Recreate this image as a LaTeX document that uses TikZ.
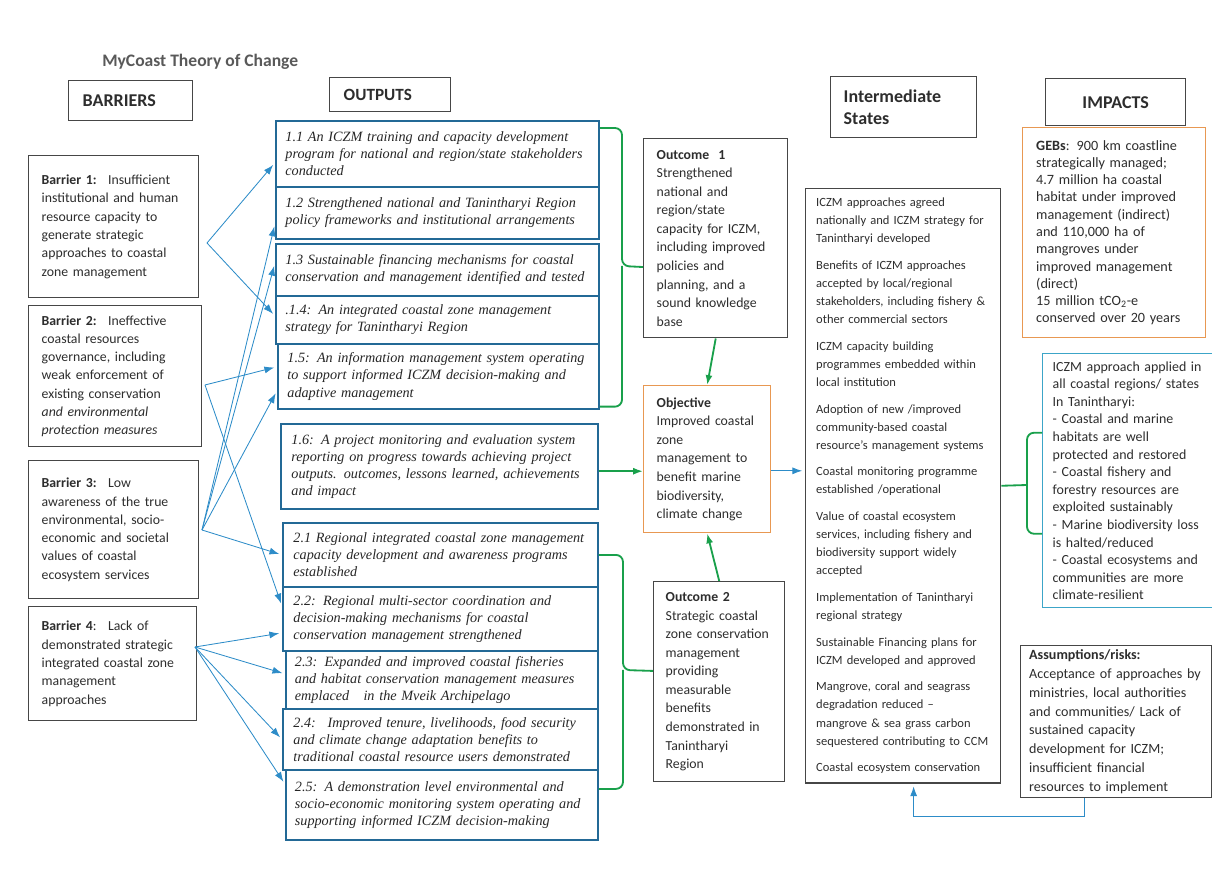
\documentclass[tikz,border=0pt]{standalone}
\usepackage{fontspec}
\setmainfont{Carlito}
\newfontfamily\timesfont{Liberation Serif}
\usepackage{tikz}
\usetikzlibrary{arrows.meta}
\definecolor{boxgray}{RGB}{70,70,70}
\definecolor{txtgray}{RGB}{45,45,45}
\definecolor{outblue}{RGB}{35,105,150}
\definecolor{arrblue}{RGB}{45,140,200}
\definecolor{bracegreen}{RGB}{25,160,75}
\definecolor{objorange}{RGB}{232,152,82}
\definecolor{impteal}{RGB}{60,165,200}
\tikzstyle{box}=[draw=boxgray, line width=1pt, inner sep=0pt, anchor=north west, text=txtgray, align=left]
\tikzstyle{hbox}=[box, font=\fontsize{12.8}{15}\selectfont\bfseries]
\tikzstyle{bbox}=[box, font=\fontsize{9.8}{13}\selectfont]
\tikzstyle{obox}=[box, draw=outblue, line width=1.3pt, text=black!85, font=\timesfont\itshape\fontsize{10.1}{12.2}\selectfont]
\tikzstyle{cbox}=[box, font=\fontsize{9.8}{13.2}\selectfont]
\tikzstyle{sbox}=[box, font=\fontsize{8.9}{12.9}\selectfont]
\tikzstyle{barr}=[draw=arrblue, line width=0.6pt, shorten >=2pt, -{Latex[length=7pt,width=5pt]}]
\tikzstyle{brace}=[draw=bracegreen, line width=1.3pt, rounded corners=5pt]
\tikzstyle{garr}=[brace, -{Latex[length=7pt,width=5pt]}]

\begin{document}
\begin{tikzpicture}[x=0.025cm, y=-0.025cm]
    \useasboundingbox (0,0) rectangle (1212,878);
    \node[font=\fontsize{12.5}{15}\selectfont\bfseries, text=black!65, anchor=west, inner sep=0pt] (title) at (102,62) {MyCoast Theory of Change};

    % column headers
    \node[hbox, minimum width=3.1cm, minimum height=1cm, text width=2.4cm] (hbar) at (68,80) {BARRIERS};
    \node[hbox, font=\fontsize{12.2}{15}\selectfont\bfseries, minimum width=3.025cm, minimum height=0.85cm, text width=2.325cm] (hout) at (329,77) {OUTPUTS};
    \node[hbox, minimum width=3.65cm, minimum height=1.525cm, text width=3cm] (hint) at (830,76) {Intermediate\\States};
    \node[hbox, minimum width=3.5cm, minimum height=1.175cm, align=center] (himp) at (1045,78) {IMPACTS};

    % barriers
    \node[bbox, minimum width=4.25cm, minimum height=3.55cm, text width=3.6cm] (b1) at (28,155)
        {\textbf{Barrier 1:} \ Insufficient\\institutional and human\\resource capacity to\\generate strategic\\approaches to coastal\\zone management};
    \node[bbox, minimum width=4.325cm, minimum height=3.525cm, text width=3.675cm] (b2) at (28,305)
        {\textbf{Barrier 2:} \ Ineffective\\coastal resources\\governance, including\\weak enforcement of\\existing conservation\\\textit{and environmental}\\\textit{protection measures}};
    \node[bbox, minimum width=4.25cm, minimum height=3.45cm, text width=3.6cm] (b3) at (28,460)
        {\textbf{Barrier 3:} \ Low\\awareness of the true\\environmental, socio-\\economic and societal\\values of coastal\\ecosystem services\\[0.15cm]};
    \node[bbox, minimum width=4.2cm, minimum height=2.85cm, text width=3.55cm] (b4) at (28,606)
        {\textbf{Barrier 4}: \ Lack of\\demonstrated strategic\\integrated coastal zone\\management\\approaches};

    % outputs
    \node[obox, minimum width=8.075cm, minimum height=1.65cm, text width=7.6cm] (o11) at (275,120)
        {1.1 An ICZM training and capacity development\\program for national and region/state stakeholders\\conducted};
    \node[obox, minimum width=8.075cm, minimum height=1.3cm, text width=7.6cm] (o12) at (275,186)
        {1.2 Strengthened national and Tanintharyi Region\\policy frameworks and institutional arrangements};
    \node[obox, minimum width=8.075cm, minimum height=1.3cm, text width=7.6cm] (o13) at (275,243)
        {1.3 Sustainable financing mechanisms for coastal\\conservation and management identified and tested};
    \node[obox, minimum width=8.075cm, minimum height=1.2cm, text width=7.6cm] (o14) at (275,295)
        {.1.4: An integrated coastal zone management\\strategy for Tanintharyi Region};
    \node[obox, minimum width=8.025cm, minimum height=1.625cm, text width=7.55cm] (o15) at (277,343)
        {1.5: An information management system operating\\to support informed ICZM decision-making and\\adaptive management};
    \node[obox, minimum width=7.925cm, minimum height=2.125cm, text width=7.4cm] (o16) at (280,423)
        {1.6: A project monitoring and evaluation system\\reporting on progress towards achieving project\\outputs. outcomes, lessons learned, achievements\\and impact};
    \node[obox, minimum width=7.875cm, minimum height=1.6cm, text width=7.35cm] (o21) at (282,522)
        {2.1 Regional integrated coastal zone management\\capacity development and awareness programs\\established};
    \node[obox, minimum width=7.875cm, minimum height=1.6cm, text width=7.35cm] (o22) at (282,586)
        {2.2: Regional multi-sector coordination and\\decision-making mechanisms for coastal\\conservation management strengthened};
    \node[obox, minimum width=7.8cm, minimum height=1.45cm, text width=7.35cm] (o23) at (285,650)
        {2.3: Expanded and improved coastal fisheries\\and habitat conservation management measures\\emplaced \ \ in the Mveik Archipelago};
    \node[obox, minimum width=7.875cm, minimum height=1.525cm, text width=7.35cm] (o24) at (282,708)
        {2.4: \ Improved tenure, livelihoods, food security\\and climate change adaptation benefits to\\traditional coastal resource users demonstrated};
    \node[obox, minimum width=7.8cm, minimum height=1.75cm, text width=7.35cm] (o25) at (285,769)
        {2.5: A demonstration level environmental and\\socio-economic monitoring system operating and\\supporting informed ICZM decision-making};

    % outcomes and objective
    \node[cbox, minimum width=3.6cm, minimum height=4.975cm, text width=2.95cm] (oc1) at (643,138)
        {\textbf{Outcome \ 1}\\Strengthened\\national and\\region/state\\capacity for ICZM,\\including improved\\policies and\\planning, and a\\sound knowledge\\base};
    \node[cbox, draw=objorange, minimum width=3.175cm, minimum height=3.675cm, text width=2.525cm] (obj) at (643,385)
        {\textbf{Objective}\\Improved coastal\\zone\\management to\\benefit marine\\biodiversity,\\climate change};
    \node[cbox, minimum width=3.275cm, minimum height=5cm, text width=2.675cm] (oc2) at (653,581)
        {\textbf{Outcome 2}\\Strategic coastal\\zone conservation\\management\\providing\\measurable\\benefits\\demonstrated in\\Tanintharyi\\Region};

    % intermediate states
    \node[sbox, minimum width=4.875cm, minimum height=14.85cm, text width=4.35cm] (im) at (805,188)
        {ICZM approaches agreed\\nationally and ICZM strategy for\\Tanintharyi developed\\[0.21cm]
         Benefits of ICZM approaches\\accepted by local/regional\\stakeholders, including fishery \&\\other commercial sectors\\[0.21cm]
         ICZM capacity building\\programmes embedded within\\local institution\\[0.21cm]
         Adoption of new /improved\\community-based coastal\\resource's management systems\\[0.21cm]
         Coastal monitoring programme\\established /operational\\[0.21cm]
         Value of coastal ecosystem\\services, including fishery and\\biodiversity support widely\\accepted\\[0.21cm]
         Implementation of Tanintharyi\\regional strategy\\[0.21cm]
         Sustainable Financing plans for\\ICZM developed and approved\\[0.21cm]
         Mangrove, coral and seagrass\\degradation reduced --\\mangrove \& sea grass carbon\\sequestered contributing to CCM\\[0.21cm]
         Coastal ecosystem conservation};

    % impacts
    \node[cbox, draw=objorange, font=\fontsize{10.1}{12.3}\selectfont, minimum width=4.575cm, minimum height=5.25cm, text width=3.9cm] (geb) at (1022,127)
        {\textbf{GEBs}: 900 km coastline\\strategically managed;\\4.7 million ha coastal\\habitat under improved\\management (indirect)\\and 110,000 ha of\\mangroves under\\improved management\\(direct)\\15 million tCO\textsubscript{2}-e\\conserved over 20 years};
    \node[cbox, draw=impteal, font=\fontsize{9.9}{12.5}\selectfont, minimum width=4.35cm, minimum height=6.35cm, text width=3.85cm] (ap) at (1042,353)
        {ICZM approach applied in\\all coastal regions/ states\\In Tanintharyi:\\- Coastal and marine\\habitats are well\\protected and restored\\- Coastal fishery and\\forestry resources are\\exploited sustainably\\- Marine biodiversity loss\\is halted/reduced\\- Coastal ecosystems and\\communities are more\\climate-resilient};
    \node[cbox, font=\fontsize{10}{13.4}\selectfont, minimum width=4.775cm, minimum height=3.8cm, text width=4.35cm] (as) at (1020,645)
        {\textbf{Assumptions/risks:}\\Acceptance of approaches by\\ministries, local authorities\\and communities/ Lack of\\sustained capacity\\development for ICZM;\\insufficient financial\\resources to implement};

    % barriers to outputs
    \coordinate (b1o) at (207,243);
    \coordinate (b2o) at (205,385);
    \coordinate (b3o) at (202,530);
    \coordinate (b4o) at (195,647);
    \draw[barr] (b1o) -- ([yshift=-0.22cm]o11.west);
    \draw[barr] (b1o) -- ([yshift=0.1cm]o14.west);
    \draw[barr] (b2o) -- ([yshift=0.24cm]o15.west);
    \draw[barr] (b2o) -- ([yshift=0.32cm]o22.west);
    \draw[barr] (b3o) -- ([yshift=-0.27cm]o12.west);
    \draw[barr] (b3o) -- ([yshift=0.17cm]o13.west);
    \draw[barr] (b3o) -- ([yshift=-0.36cm]o15.west);
    \draw[barr] (b3o) -- (o21.west);
    \draw[barr] (b4o) -- ([yshift=-0.35cm]o22.west);
    \draw[barr] (b4o) -- ([yshift=0.15cm]o23.west);
    \draw[barr] (b4o) -- (o24.west);
    \draw[barr] (b4o) -- ([yshift=0.52cm]o25.west);

    % braces
    \coordinate (br1) at (622,266);
    \draw[brace] ([yshift=-0.2cm]o11.north east) -| (br1) -- ([yshift=-0.72cm]oc1.west);
    \draw[brace] ([yshift=0.08cm]o15.south east) -| (br1);
    \coordinate (br2) at (623,670);
    \draw[brace] (o21.east) -| (br2) -- ([yshift=0.27cm]oc2.west);
    \draw[brace] ([yshift=0.4cm]o25.east) -| (br2);
    \coordinate (br3) at (1027,485);
    \draw[brace] (im.east) -- (br3);
    \draw[brace] ([yshift=1.2cm]ap.west) -| (br3) |- ([yshift=-1.325cm]ap.west);

    % towards the objective
    \draw[garr] ([yshift=-0.12cm]o16.east) -- ([yshift=-0.12cm]o16.east -| obj.west);
    \draw[garr] (oc1.south) -- (obj.north);
    \draw[garr] (oc2.north) -- (obj.south);
    \draw[barr] ([yshift=-0.29cm]obj.east) -- ([yshift=-0.29cm]obj.east -| im.west);
    \draw[barr] ([xshift=-0.8cm]as.south) -- ++(0,18) -| ([xshift=0.26cm]im.south);
\end{tikzpicture}
\end{document}
